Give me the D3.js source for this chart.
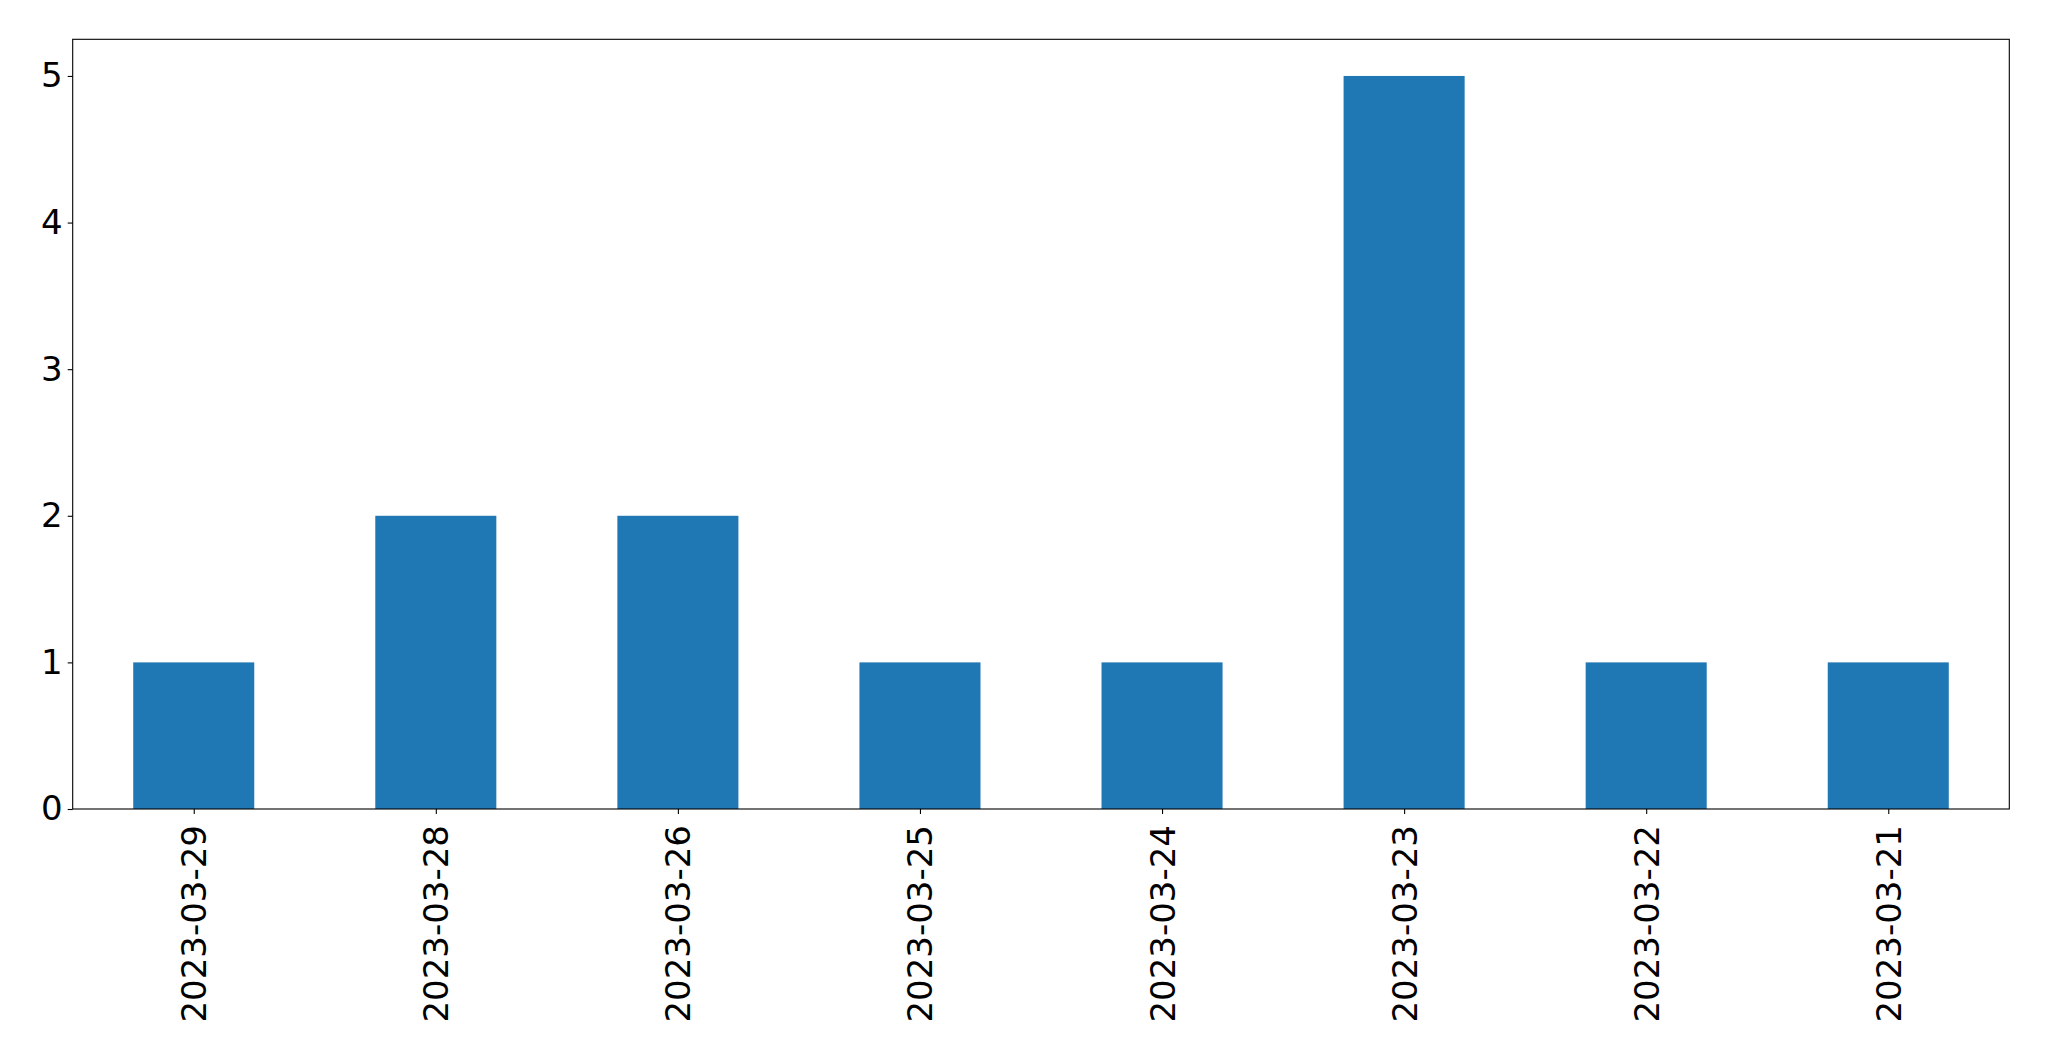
<!DOCTYPE html>
<html>
<head>
<meta charset="utf-8">
<script src="https://cdn.jsdelivr.net/npm/d3@7"></script>
<style>
  html, body { margin: 0; padding: 0; background: #fff; }
  svg { display: block; }
  text { font-family: "DejaVu Sans", sans-serif; fill: #000; }
</style>
</head>
<body>
<svg id="chart" width="2049" height="1061"></svg>
<script>
const categories = ["2023-03-29", "2023-03-28", "2023-03-26", "2023-03-25", "2023-03-24", "2023-03-23", "2023-03-22", "2023-03-21"];
const values = [1, 2, 2, 1, 1, 5, 1, 1];
const yTicks = [0, 1, 2, 3, 4, 5];

(function () {
const svg = d3.select("#chart");
const mLeft = 72.7, mRight = 2009.3, mTop = 39.3, mBottom = 809;
const fontSize = 34;

const x = d3.scaleLinear().domain([-0.5, categories.length - 0.5]).range([mLeft, mRight]);
const y = d3.scaleLinear().domain([0, 5.25]).range([mBottom, mTop]);
const barW = 0.5;

svg.append("g").selectAll("rect").data(values).join("rect")
  .attr("x", (d, i) => x(i - barW / 2))
  .attr("width", (d, i) => x(i + barW / 2) - x(i - barW / 2))
  .attr("y", d => y(d))
  .attr("height", d => y(0) - y(d))
  .attr("fill", "#1f77b4");

// y axis
const yAxis = d3.axisLeft(y).tickValues(yTicks).tickFormat(d3.format("d")).tickSize(5).tickPadding(5);
const gy = svg.append("g").attr("transform", `translate(${mLeft},0)`).call(yAxis);
gy.select(".domain").remove();
gy.selectAll("text").style("font-size", fontSize + "px").attr("font-family", "DejaVu Sans");
gy.selectAll("line").attr("stroke", "#000").attr("stroke-width", 1.1);

// x axis
const xAxis = d3.axisBottom(x).tickValues(d3.range(categories.length)).tickFormat(i => categories[i]).tickSize(5).tickPadding(5);
const gx = svg.append("g").attr("transform", `translate(0,${mBottom})`).call(xAxis);
gx.select(".domain").remove();
gx.selectAll("line").attr("stroke", "#000").attr("stroke-width", 1.1);
gx.selectAll("text")
  .style("font-size", fontSize + "px")
  .attr("font-family", "DejaVu Sans")
  .attr("text-anchor", "end")
  .attr("dy", null)
  .attr("dominant-baseline", "central")
  .attr("transform", "translate(0,16) rotate(-90)")
  .attr("x", 0).attr("y", 0);

// frame
svg.append("rect")
  .attr("x", mLeft).attr("y", mTop)
  .attr("width", mRight - mLeft).attr("height", mBottom - mTop)
  .attr("fill", "none").attr("stroke", "#000").attr("stroke-width", 1.1);
})();
</script>
</body>
</html>
